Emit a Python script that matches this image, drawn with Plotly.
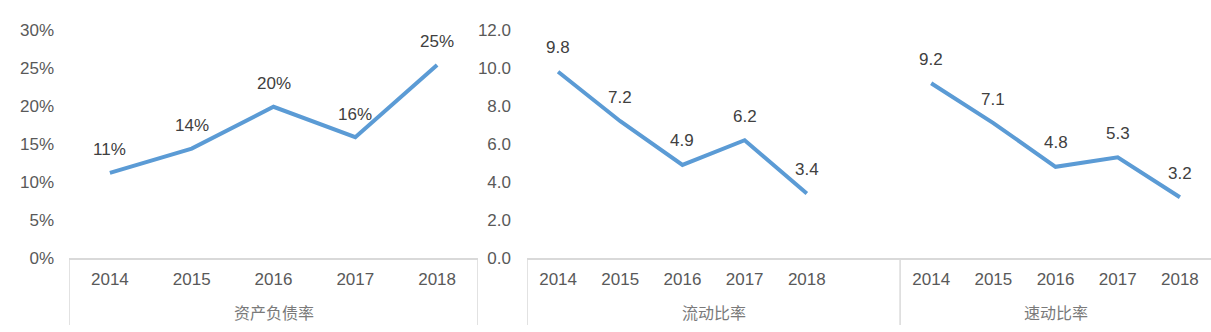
import plotly.graph_objects as go

# Data
years = ["2014", "2015", "2016", "2017", "2018"]
debt_ratio = [0.112, 0.144, 0.199, 0.159, 0.254]      # 资产负债率
current_ratio = [9.8, 7.2, 4.9, 6.2, 3.4]             # 流动比率
quick_ratio = [9.2, 7.1, 4.8, 5.3, 3.2]               # 速动比率
group_names = ["资产负债率", "流动比率", "速动比率"]
pct_ticks = [0, 0.05, 0.10, 0.15, 0.20, 0.25, 0.30]
ratio_ticks = [0, 2, 4, 6, 8, 10, 12]

W, H = 1211, 332
LINE = "#5b9bd5"
AXIS = "#d9d9d9"
TICK_FONT = dict(family="Liberation Sans, Arial, sans-serif", size=17, color="#595959")
LABEL_FONT = dict(family="Liberation Sans, Arial, sans-serif", size=17, color="#404040")
CJK_FONT = dict(family="Noto Sans CJK SC, sans-serif", size=16, color="#7a7a7a")


def px_x(v):
    return v / W


def px_y(v):
    return 1 - v / H


y_dom = [px_y(258), px_y(30)]

fig = go.Figure()

# left panel: debt ratio
x_left = list(range(len(years)))
fig.add_trace(go.Scatter(x=x_left, y=debt_ratio, mode="lines",
                         line=dict(color=LINE, width=4), xaxis="x", yaxis="y",
                         hoverinfo="skip"))

# right panel: current and quick ratio share one axis with a blank slot between
x_cur = list(range(len(years)))
x_quick = [i + len(years) + 1 for i in range(len(years))]
fig.add_trace(go.Scatter(x=x_cur, y=current_ratio, mode="lines",
                         line=dict(color=LINE, width=4), xaxis="x2", yaxis="y2",
                         hoverinfo="skip"))
fig.add_trace(go.Scatter(x=x_quick, y=quick_ratio, mode="lines",
                         line=dict(color=LINE, width=4), xaxis="x2", yaxis="y2",
                         hoverinfo="skip"))

annotations = []
for x, v in zip(x_left, debt_ratio):
    annotations.append(dict(x=x, y=v, xref="x", yref="y", text=f"{round(v*100)}%",
                            showarrow=False, yshift=23, font=LABEL_FONT))
for xs, vals in ((x_cur, current_ratio), (x_quick, quick_ratio)):
    for x, v in zip(xs, vals):
        annotations.append(dict(x=x, y=v, xref="x2", yref="y2", text=f"{v:.1f}",
                                showarrow=False, yshift=24, font=LABEL_FONT))

# group labels under the year ticks
for xref, xv, name in (("x", 2, group_names[0]), ("x2", 2.5, group_names[1]),
                       ("x2", 8, group_names[2])):
    annotations.append(dict(x=xv, y=px_y(312), xref=xref, yref="paper", text=name,
                            showarrow=False, yanchor="middle", xanchor="center",
                            font=CJK_FONT))

# vertical group separators
shapes = []
for xref, xv in (("x", -0.5), ("x", 4.5), ("x2", -0.5), ("x2", 5.5)):
    shapes.append(dict(type="line", xref=xref, yref="paper", x0=xv, x1=xv,
                       y0=px_y(258), y1=px_y(325), line=dict(color=AXIS, width=1.5)))

fig.update_layout(
    width=W, height=H,
    margin=dict(l=0, r=0, t=0, b=0, pad=0, autoexpand=False),
    paper_bgcolor="white", plot_bgcolor="white",
    showlegend=False,
    annotations=annotations,
    shapes=shapes,
    xaxis=dict(domain=[px_x(69), px_x(478)], range=[-0.5, 4.5],
               tickvals=x_left, ticktext=years, tickfont=TICK_FONT,
               showline=True, linecolor=AXIS, linewidth=1.5, showgrid=False,
               zeroline=False, ticks="", anchor="y", automargin=False,
               ticklabelstandoff=5),
    yaxis=dict(domain=y_dom, range=[0, 0.30], tickvals=pct_ticks,
               ticktext=[f"{round(t*100)}%" for t in pct_ticks], tickfont=TICK_FONT,
               showline=False, showgrid=False, zeroline=False, ticks="",
               anchor="x", automargin=False, ticklabelstandoff=14),
    xaxis2=dict(domain=[px_x(527), 1.0], range=[-0.5, 10.5],
                tickvals=x_cur + x_quick, ticktext=years + years, tickfont=TICK_FONT,
                showline=True, linecolor=AXIS, linewidth=1.5, showgrid=False,
                zeroline=False, ticks="", anchor="y2", automargin=False,
                ticklabelstandoff=5),
    yaxis2=dict(domain=y_dom, range=[0, 12], tickvals=ratio_ticks,
                ticktext=[f"{t:.1f}" for t in ratio_ticks], tickfont=TICK_FONT,
                showline=False, showgrid=False, zeroline=False, ticks="",
                anchor="x2", automargin=False, ticklabelstandoff=15),
)

fig.write_html("out.html", config={"displayModeBar": False})
